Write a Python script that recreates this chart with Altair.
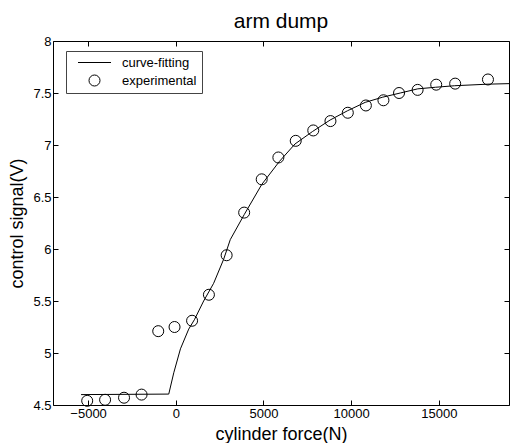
import altair as alt
import pandas as pd

title_text = "arm dump"
x_title = "cylinder force(N)"
y_title = "control signal(V)"
series_names = ["curve-fitting", "experimental"]

# fitted curve
fit_x = [-5400, -400, -114, 267, 739, 1062, 1590, 2159, 2727, 3108, 3900, 4900,
         5900, 6800, 7800, 8800, 9800, 10800, 11800, 12800, 13800, 14800, 15900,
         17800, 19000]
fit_y = [4.60, 4.605, 4.81, 5.04, 5.23, 5.32, 5.50, 5.67, 5.90, 6.09, 6.33, 6.62,
         6.84, 7.01, 7.13, 7.24, 7.33, 7.41, 7.46, 7.50, 7.54, 7.555, 7.57,
         7.585, 7.59]

# experimental points
exp_x = [-5050, -4030, -2950, -1950, -1000, -70, 930, 1890, 2900, 3900, 4900, 5850,
         6840, 7840, 8820, 9810, 10840, 11840, 12730, 13790, 14850, 15930, 17800]
exp_y = [4.54, 4.55, 4.57, 4.60, 5.21, 5.25, 5.31, 5.56, 5.94, 6.35, 6.67, 6.88,
         7.04, 7.14, 7.23, 7.31, 7.38, 7.43, 7.50, 7.53, 7.58, 7.59, 7.63]

x_ticks = [-5000, 0, 5000, 10000, 15000]
y_ticks = [4.5, 5, 5.5, 6, 6.5, 7, 7.5, 8]
x_domain = [-7000, 19000]
y_domain = [4.5, 8]

FONT = "Liberation Sans"

fit_df = pd.DataFrame({"force": fit_x, "signal": fit_y, "series": series_names[0]})
exp_df = pd.DataFrame({"force": exp_x, "signal": exp_y, "series": series_names[1]})

xscale = alt.Scale(domain=x_domain, nice=False, zero=False)
yscale = alt.Scale(domain=y_domain, nice=False, zero=False)

# axes moved 5px inside so that the 5px ticks point inward (MATLAB style)
x_axis_main = alt.Axis(values=x_ticks, format="d", title=x_title, ticks=True, tickSize=5,
                       tickColor="black", offset=-5, labelPadding=2, domain=False,
                       grid=False, titlePadding=5, zindex=1)
y_axis_main = alt.Axis(values=y_ticks, format=".1~f", title=y_title, ticks=True, tickSize=5,
                       tickColor="black", offset=-5, labelPadding=2, domain=False,
                       grid=False, titlePadding=6, zindex=1)
x_axis_top = alt.Axis(values=x_ticks, labels=False, title=None, ticks=True, tickColor="black",
                      tickSize=5, offset=-5, domain=False, grid=False, orient="top", zindex=1)
y_axis_right = alt.Axis(values=y_ticks, labels=False, title=None, ticks=True, tickColor="black",
                        tickSize=5, offset=-5, domain=False, grid=False, orient="right",
                        zindex=1)

line = alt.Chart(fit_df).mark_line(color="black", strokeWidth=1).encode(
    x=alt.X("force:Q", scale=xscale, axis=x_axis_main),
    y=alt.Y("signal:Q", scale=yscale, axis=y_axis_main),
)

points = alt.Chart(exp_df).mark_point(filled=False, color="black", size=121,
                                      strokeWidth=1, opacity=1).encode(
    x=alt.X("force:Q", scale=xscale, axis=x_axis_top),
    y=alt.Y("signal:Q", scale=yscale, axis=y_axis_right),
    shape=alt.Shape("series:N",
                    scale=alt.Scale(domain=series_names, range=["M-3,0H3", "circle"]),
                    legend=alt.Legend(title=None, orient="none", legendX=13, legendY=10,
                                      symbolSize=121, symbolStrokeColor="black",
                                      symbolStrokeWidth=1, symbolFillColor="transparent",
                                      labelFont=FONT, labelFontSize=13, labelColor="black",
                                      padding=5, strokeColor="#444", fillColor="white",
                                      symbolOffset=17, labelOffset=21, rowPadding=3,
                                      zindex=2)),
)

chart = alt.layer(line, points).resolve_axis(x="independent", y="independent").properties(
    width=456, height=364,
    padding={"left": 0, "right": 0, "top": 3, "bottom": 0},
    title=alt.TitleParams(title_text, font=FONT, fontSize=21, fontWeight="normal",
                          anchor="middle", frame="group", offset=3, color="black"),
).configure_view(stroke="black", strokeWidth=1).configure_axis(
    labelFont=FONT, labelFontSize=13, labelColor="black",
    titleFont=FONT, titleFontSize=18, titleFontWeight="normal", titleColor="black",
    tickColor="black", tickWidth=1,
)

chart.save("out.html", embed_options={"renderer": "svg", "actions": False})
